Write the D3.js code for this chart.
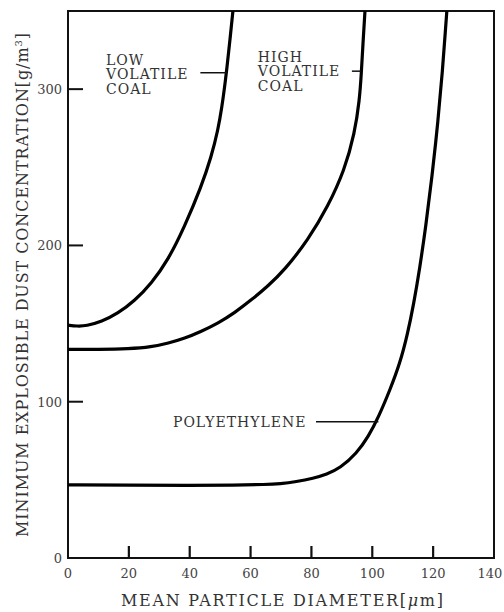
<!DOCTYPE html>
<html><head><meta charset="utf-8">
<script src="https://cdn.jsdelivr.net/npm/d3@7"></script>
<style>body{margin:0;background:#fff}svg{display:block}</style>
</head><body><svg id="c" width="504" height="612"></svg>
<script>
const xTicks = [0, 20, 40, 60, 80, 100, 120, 140];
const yTicks = [0, 100, 200, 300];
const lowCoal = [[0,149],[3,148.3],[6,148.5],[11,151.2],[16.4,156.5],[21.9,164.6],[27.4,175.7],[32.9,190.7],[38.3,212],[43.8,237.6],[47.1,256.8],[49.3,273.9],[50.6,288.8],[51.5,302],[52.2,313],[53.2,331],[54.2,350]];
const highCoal = [[0,133.5],[10,133.5],[20,133.8],[27.4,135],[33,137.5],[38.3,140.5],[43.8,145],[49.3,150.2],[54.8,157],[60.2,165],[65.7,174],[71.2,184.3],[78.9,203.5],[85.4,224.8],[90.9,248.3],[94.2,271.7],[95.8,293],[96.4,310],[96.9,328],[97.6,350]];
const polyethylene = [[0,46.8],[20,46.6],[40,46.4],[55,46.6],[65,47],[69.7,47.5],[75,48.8],[80.6,51],[85,53.6],[89.4,57.4],[94.9,67],[98.7,77.6],[102.1,90.4],[105.8,107.5],[109.1,124.6],[111.6,143.4],[113.6,162.4],[115.6,185.4],[117.6,212.4],[119.6,243.4],[121.6,279.4],[123.1,312.4],[124.1,339.4],[124.5,350]];
const labels = [
  {lines:["LOW","VOLATILE","COAL"], x:12.5, y:315.5, lead:[43.5,52.2,310.5]},
  {lines:["HIGH","VOLATILE","COAL"], x:62.4, y:317.4, lead:[93.3,96.2,311.5]},
  {lines:["POLYETHYLENE"], x:34.5, y:83.8, lead:[81.5,102,87.2]}
];

const FONT = "DejaVu Serif";
const svg = d3.select("#c");
const x = d3.scaleLinear().domain([0,140]).range([68,494]);
const y = d3.scaleLinear().domain([0,350]).range([558,11]);

svg.append("defs").append("clipPath").attr("id","clip")
  .append("rect").attr("x",68).attr("y",11).attr("width",426).attr("height",547);

svg.append("rect").attr("x",x(0)).attr("y",y(350)).attr("width",x(140)-x(0)).attr("height",y(0)-y(350))
  .attr("fill","none").attr("stroke","#111").attr("stroke-width",2);

svg.append("g").selectAll("line").data(xTicks.filter(d=>d>0&&d<140)).join("line")
  .attr("x1",d=>x(d)).attr("x2",d=>x(d)).attr("y1",y(0)).attr("y2",y(0)-12)
  .attr("stroke","#111").attr("stroke-width",2.2);
svg.append("g").selectAll("text").data(xTicks).join("text")
  .attr("x",d=>Math.min(x(d),490)).attr("y",578).attr("text-anchor","middle").attr("font-size",13).attr("fill","#444")
  .attr("font-family",FONT).text(d=>d);

svg.append("g").selectAll("line").data(yTicks.filter(d=>d>0)).join("line")
  .attr("x1",x(0)).attr("x2",x(0)+15).attr("y1",d=>y(d)).attr("y2",d=>y(d))
  .attr("stroke","#111").attr("stroke-width",2);
svg.append("g").selectAll("text").data(yTicks).join("text")
  .attr("x",62).attr("y",d=>y(d)+5).attr("text-anchor","end").attr("font-size",13).attr("fill","#444")
  .attr("font-family",FONT).text(d=>d);

const line = d3.line().x(d=>x(d[0])).y(d=>y(d[1])).curve(d3.curveBasis);
const g = svg.append("g").attr("clip-path","url(#clip)");
[lowCoal, highCoal, polyethylene].forEach(s=>{
  g.append("path").attr("d",line(s)).attr("fill","none").attr("stroke","#000").attr("stroke-width",3.2)
    .attr("stroke-linejoin","round");
});

labels.forEach(l=>{
  const t = svg.append("text").attr("font-size",14).attr("letter-spacing",1).attr("fill","#333").attr("font-family",FONT);
  l.lines.forEach((s,i)=>{
    t.append("tspan").attr("x",x(l.x)).attr("y",y(l.y)+i*14.5).text(s);
  });
  svg.append("line").attr("x1",x(l.lead[0])).attr("x2",x(l.lead[1])).attr("y1",y(l.lead[2])).attr("y2",y(l.lead[2]))
    .attr("stroke","#111").attr("stroke-width",1.5);
});

const xt = svg.append("text").attr("x",282).attr("y",606).attr("text-anchor","middle").attr("font-size",16)
  .attr("fill","#333").attr("font-family",FONT).attr("textLength",322).attr("lengthAdjust","spacing");
xt.append("tspan").text("MEAN  PARTICLE  DIAMETER[");
xt.append("tspan").attr("font-style","italic").text("μ");
xt.append("tspan").text("m]");

const yt = svg.append("text").attr("transform","translate(28,285) rotate(-90)").attr("text-anchor","middle").attr("font-size",16)
  .attr("fill","#333").attr("font-family",FONT).attr("textLength",504).attr("lengthAdjust","spacing");
yt.append("tspan").text("MINIMUM  EXPLOSIBLE  DUST  CONCENTRATION[g/m");
yt.append("tspan").attr("font-size",10).attr("dy",-6).text("3");
yt.append("tspan").attr("dy",6).text("]");
</script></body></html>
